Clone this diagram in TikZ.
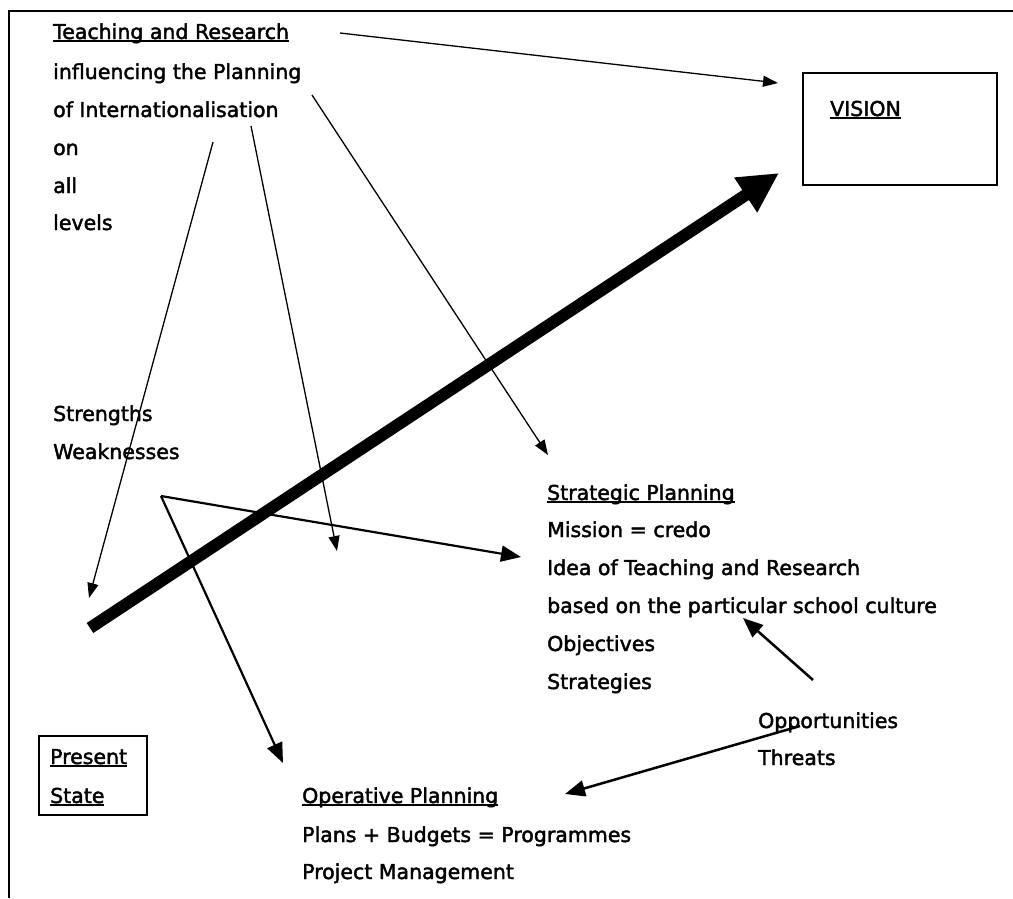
\documentclass[tikz,border=0pt]{standalone}
\usepackage{fontspec}
\setmainfont{DejaVu Sans}
\newfontfamily\labelfont[FakeBold=2]{DejaVu Sans}
\usetikzlibrary{arrows.meta}

% underline that sits just below the baseline and cuts through descenders
\newsavebox{\ulbox}
\newcommand{\ulword}[1]{\sbox{\ulbox}{#1}\rlap{\rule[-3.4pt]{\wd\ulbox}{2pt}}\usebox{\ulbox}}

\tikzset{
  lbl/.style={anchor=base west, inner sep=0pt, font=\labelfont\fontsize{20.5}{24}\selectfont},
  thinarrow/.style={draw, line width=1.3pt, -{Triangle[length=15pt,width=11pt]}},
  midarrow/.style={draw, line width=2.2pt, -{Triangle[length=20pt,width=16pt]}},
  bigarrow/.style={draw, line width=12pt, -{Triangle[length=40pt,width=39pt]}},
  framebox/.style={draw, line width=2.2pt, inner sep=0pt, anchor=north west}
}

\begin{document}
\begin{tikzpicture}[x=1pt, y=-1pt]
\useasboundingbox (0,0) rectangle (1013,898);

% outer frame (left and top edges)
\draw[line width=2pt] (9,898) -- (9,10.5) -- (1013,10.5);

% top-left block
\node[lbl] (tr1) at (53,39)  {\ulword{Teaching and Research}};
\node[lbl] (tr2) at (53,79)  {influencing the Planning};
\node[lbl] (tr3) at (53,117) {of Internationalisation};
\node[lbl] (tr4) at (53,155) {on};
\node[lbl] (tr5) at (53,193) {all};
\node[lbl] (tr6) at (53,230) {levels};

% vision box
\node[framebox, minimum width=194pt, minimum height=112pt] (vision) at (802,72) {};
\node[lbl] (visionlbl) at (830,116) {\ulword{VISION}};

% strengths / weaknesses
\node[lbl] (sw1) at (53,421) {Strengths};
\node[lbl] (sw2) at (53,459) {Weaknesses};

% strategic planning
\node[lbl] (sp1) at (547,500) {\ulword{Strategic Planning}};
\node[lbl] (sp2) at (547,537) {Mission = credo};
\node[lbl] (sp3) at (547,575) {Idea of Teaching and Research};
\node[lbl] (sp4) at (547,613) {based on the particular school culture};
\node[lbl] (sp5) at (547,651) {Objectives};
\node[lbl] (sp6) at (547,689) {Strategies};

% opportunities / threats
\node[lbl] (ot1) at (758,728) {Opportunities};
\node[lbl] (ot2) at (758,765) {Threats};

% present state
\node[framebox, minimum width=108pt, minimum height=79pt] (present) at (38,735) {};
\node[lbl] (ps1) at (50,764) {\ulword{Present}};
\node[lbl] (ps2) at (50,803) {\ulword{State}};

% operative planning
\node[lbl] (op1) at (302,803) {\ulword{Operative Planning}};
\node[lbl] (op2) at (302,842) {Plans + Budgets = Programmes};
\node[lbl] (op3) at (302,879) {Project Management};

% connector end points
\coordinate (trVisionStart) at (340,33);
\coordinate (visionIn) at (778,83);
\coordinate (trA) at (213,142);
\coordinate (swTip) at (89,598);
\coordinate (trB) at (251,126);
\coordinate (midTip) at (337,551);
\coordinate (trC) at (312,95);
\coordinate (spTip) at (548,455);
\coordinate (vtx) at (161,496);
\coordinate (ideaTip) at (521,557);
\coordinate (opTip) at (283,763);
\coordinate (oppA) at (813,680);
\coordinate (cultureTip) at (743,618);
\coordinate (oppB) at (800,726);
\coordinate (opPlanTip) at (565,794);
\coordinate (nowTail) at (90,628);
\coordinate (visionTip) at (779,173);

% influence arrows
\draw[thinarrow] (trVisionStart) -- (visionIn);
\draw[thinarrow] (trA) -- (swTip);
\draw[thinarrow] (trB) -- (midTip);
\draw[thinarrow] (trC) -- (spTip);

% analysis fork
\draw[midarrow] (vtx) -- (ideaTip);
\draw[midarrow] (vtx) -- (opTip);

% environment arrows
\draw[midarrow, line width=2.5pt] (oppA) -- (cultureTip);
\draw[midarrow, line width=2.5pt] (oppB) -- (opPlanTip);

% path from present state to vision
\draw[bigarrow] (nowTail) -- (visionTip);
\end{tikzpicture}
\end{document}
